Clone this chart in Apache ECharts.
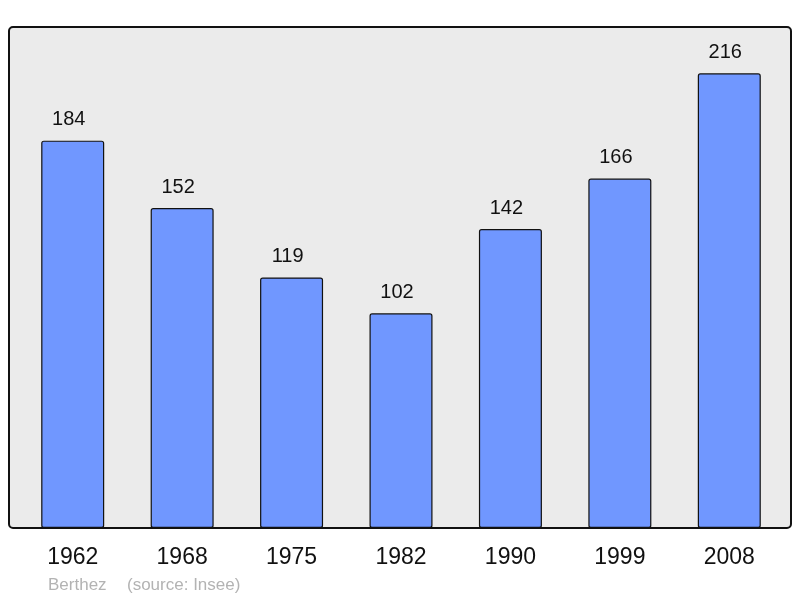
<!DOCTYPE html>
<html>
<head>
<meta charset="utf-8">
<script src="https://cdn.jsdelivr.net/npm/echarts@6/dist/echarts.min.js"></script>
<style>html,body{margin:0;padding:0;background:#fff;}#c{width:800px;height:598px;}</style>
</head>
<body>
<div id="c"></div>
<script>
const years = ['1962', '1968', '1975', '1982', '1990', '1999', '2008'];
const population = [184, 152, 119, 102, 142, 166, 216];
const author = 'Berthez';
const source = '(source: Insee)';

const chart = echarts.init(document.getElementById('c'), null, {renderer: 'canvas'});
chart.setOption({
  animation: false,
  backgroundColor: '#ffffff',
  textStyle: {fontFamily: 'Liberation Sans, Arial, sans-serif'},
  grid: {left: 18, right: 16, top: 27, bottom: 70},
  graphic: [
    {type: 'rect', z: -10, shape: {x: 9, y: 27, width: 782, height: 501, r: 4},
     style: {fill: '#ebebeb', stroke: '#111111', lineWidth: 2}},
    {type: 'text', left: 48, top: 577, style: {text: author, fill: '#b3b3b3', fontSize: 17, fontFamily: 'Liberation Sans, Arial, sans-serif'}},
    {type: 'text', left: 127, top: 577, style: {text: source, fill: '#b3b3b3', fontSize: 17, fontFamily: 'Liberation Sans, Arial, sans-serif'}}
  ],
  xAxis: {
    type: 'category', data: years,
    axisLine: {show: false}, axisTick: {show: false},
    axisLabel: {fontSize: 23, color: '#111', margin: 18, fontFamily: 'Liberation Sans, Arial, sans-serif'}
  },
  yAxis: {type: 'value', min: 0, max: 238, show: false, splitLine: {show: false}},
  series: [{
    type: 'bar', data: population, barWidth: 63,
    itemStyle: {color: '#7097ff', borderColor: '#111111', borderWidth: 1.2, borderRadius: 2},
    label: {show: true, position: 'top', distance: 11, offset: [-4, 0], fontSize: 20, color: '#111',
            fontFamily: 'Liberation Sans, Arial, sans-serif'}
  }]
});
</script>
</body>
</html>
